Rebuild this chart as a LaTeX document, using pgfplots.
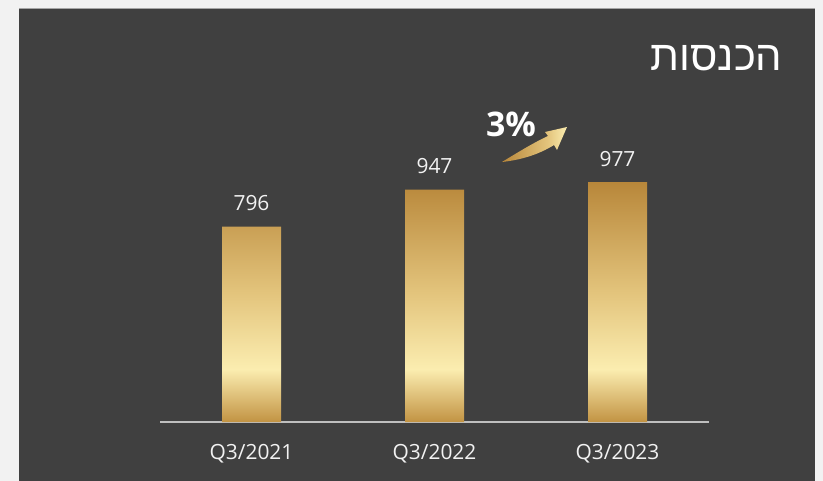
\documentclass[border=0pt]{standalone}
\usepackage{pgfplots}
\pgfplotsset{compat=1.18}
\usepackage{fontspec}
\setmainfont{Open Sans}
\newfontfamily\hebfont[Script=Hebrew]{Liberation Sans}
\TeXXeTstate=1
\definecolor{outerbg}{HTML}{F2F2F2}
\definecolor{panel}{HTML}{404040}
\definecolor{txt}{HTML}{F2F2F2}
\definecolor{axisgray}{HTML}{BFBFBF}
\definecolor{gtop}{HTML}{B8873A}
\definecolor{gmid}{HTML}{E3C47C}
\definecolor{glight}{HTML}{FBEDB0}
\definecolor{gbot}{HTML}{C29343}
\pgfdeclareverticalshading{goldbar}{100bp}{color(0bp)=(gbot); color(25bp)=(gbot); color(36bp)=(glight); color(52bp)=(gmid); color(75bp)=(gtop); color(100bp)=(gtop)}
\pgfdeclarehorizontalshading{goldarrow}{100bp}{color(0bp)=(gtop); color(25bp)=(gtop); color(60bp)=(gmid); color(75bp)=(glight); color(100bp)=(glight)}
\begin{document}
\begin{tikzpicture}
\useasboundingbox (0,0) rectangle (823bp,-481bp);
\fill[outerbg] (0,0) rectangle (823bp,-481bp);
\fill[panel] (19bp,-8bp) rectangle (815bp,-481bp);
\draw[color=gray!70, line width=0.8bp] (19bp,-8bp) -- (815bp,-8bp);
\begin{axis}[
  at={(160bp,-422bp)}, anchor=south west,
  scale only axis, width=549bp, height=294.6bp,
  xmin=-0.5, xmax=2.5, ymin=0, ymax=1200,
  axis x line*=bottom, axis y line=none,
  x axis line style={draw=axisgray, line width=1.6bp, -},
  xtick=data, xticklabels={Q3/2021,Q3/2022,Q3/2023},
  xtick style={draw=none},
  xticklabel style={font=\fontsize{21}{25}\selectfont, text=txt, yshift=-19bp},
  ytick=\empty,
  clip=false,
  /pgf/number format/assume math mode=true,
]
\addplot[ybar, bar width=59bp, draw=none, shade, shading=goldbar,
  nodes near coords,
  nodes near coords style={font=\fontsize{21}{25}\selectfont, text=txt, anchor=south, yshift=12bp}]
  coordinates {(0,796) (1,947) (2,977)};
\end{axis}
\begin{scope}[x=1bp, y=-1bp]
  \shade[shading=goldarrow] (502,162) .. controls (520,151) and (535,142) .. (548,136) -- (545,132) -- (567,127) -- (557,150) -- (554,145) .. controls (538,155) and (520,160) .. cycle;
  \node[text=white, font=\bfseries\fontsize{34}{40}\selectfont] at (511,124) {3\%};
  \node[text=white, font=\hebfont\fontsize{42}{50}\selectfont] at (716.5,58) {\beginR הכנסות\endR};
\end{scope}
\end{tikzpicture}
\end{document}
